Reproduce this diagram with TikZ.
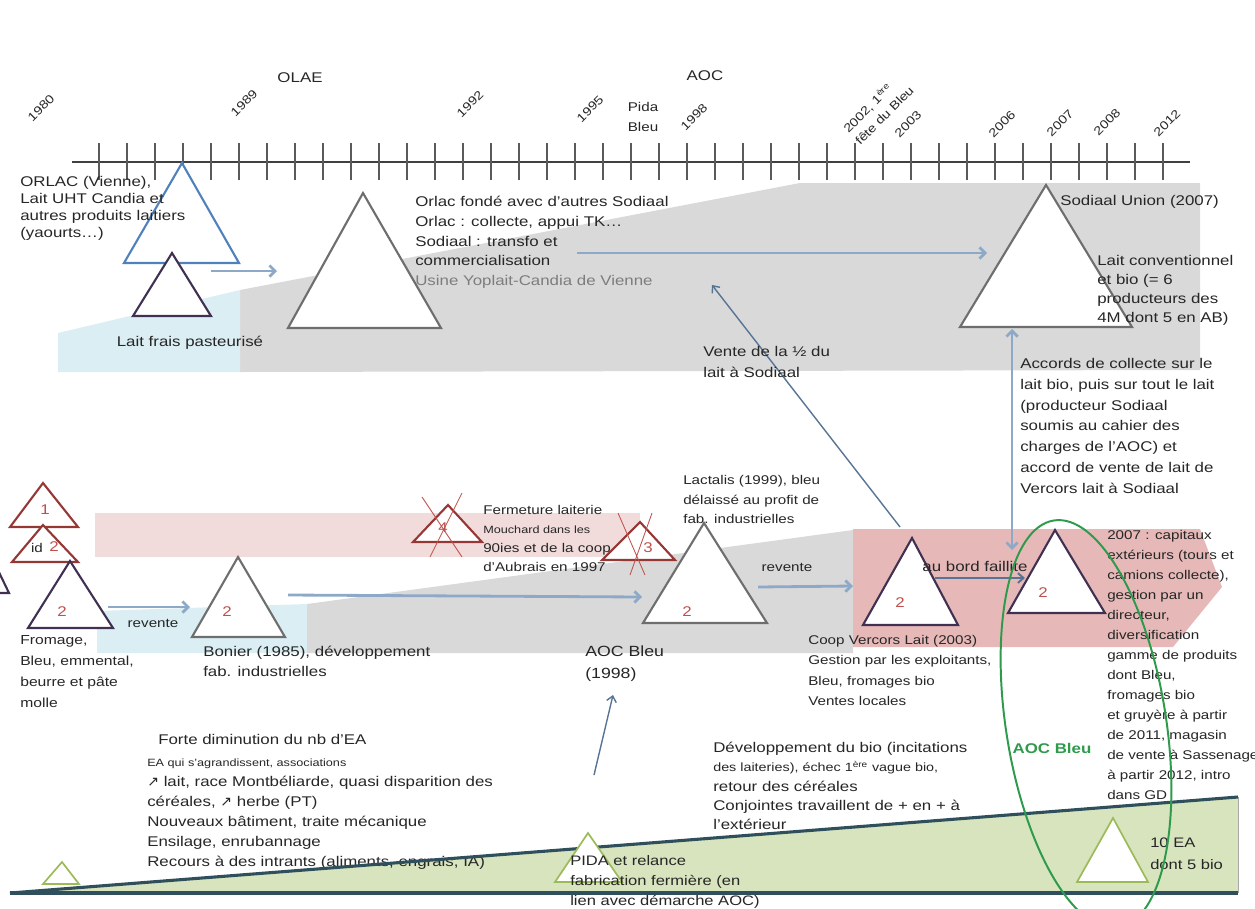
\documentclass[tikz,border=0pt]{standalone}
\usepackage{fontspec}
\setmainfont[FakeStretch=1.2]{Liberation Sans}
\newfontfamily\arrowfont{DejaVu Sans}
\usetikzlibrary{arrows.meta}

\definecolor{ink}{HTML}{262626}
\definecolor{bandgray}{HTML}{D9D9D9}
\definecolor{bandblue}{HTML}{DBEEF4}
\definecolor{pinklight}{HTML}{F2DCDB}
\definecolor{pinkdeep}{HTML}{E6B9B8}
\definecolor{bandgreen}{HTML}{D7E4BD}
\definecolor{edgegray}{HTML}{6E6E6E}
\definecolor{edgeblue}{HTML}{4F81BD}
\definecolor{edgeplum}{HTML}{403152}
\definecolor{edgered}{HTML}{953735}
\definecolor{crossred}{HTML}{C0504D}
\definecolor{edgegreen}{HTML}{9BBB59}
\definecolor{flowlight}{HTML}{8EA9C8}
\definecolor{flowdark}{HTML}{587494}
\definecolor{aocgreen}{HTML}{2E9A4C}
\definecolor{groundline}{HTML}{2F4F5C}
\definecolor{axisgray}{HTML}{404040}
\definecolor{tickgray}{HTML}{5A5A5A}

\begin{document}
\begin{tikzpicture}[x=0.025cm,y=-0.025cm,
  txt/.style={inner sep=0pt,anchor=north west,align=left,text=ink,font=\fontsize{10}{14}\selectfont},
  note/.style={inner sep=0pt,text=ink,font=\fontsize{9}{10}\selectfont},
  year/.style={inner sep=0pt,rotate=45,text=ink,font=\fontsize{8.5}{10}\selectfont},
  tri/.style={line width=1.5pt,fill=white,line join=miter},
  num/.style={inner sep=0pt,text=crossred,font=\fontsize{10}{12}\selectfont},
  flow/.style={draw=flowlight,line width=2pt,-{Straight Barb[length=4pt,width=8pt]}},
  link/.style={draw=flowdark,line width=1pt,-{Straight Barb[length=4pt,width=7pt]}},
  cross/.style={draw=crossred,line width=0.6pt},
]
\useasboundingbox (0,0) rectangle (1255,908);

% ---------- background bands ----------
\fill[bandgray] (240,290) -- (800,183) -- (1200,183) -- (1200,370) -- (240,372) -- cycle;
\fill[bandblue] (58,333) -- (240,290) -- (240,372) -- (58,372) -- cycle;
\fill[pinklight] (95,513) rectangle (640,557);
\fill[bandblue] (97,611) -- (307,604) -- (307,653) -- (97,653) -- cycle;
\fill[bandgray] (307,604) -- (853,530) -- (853,653) -- (307,653) -- cycle;
\fill[pinkdeep] (853,529) -- (1200,529) -- (1222,587) -- (1173,647) -- (853,647) -- cycle;
\fill[bandgreen] (10,893) -- (1238,797) -- (1238,893) -- cycle;
\draw[edgegray!60,line width=0.6pt] (1238,797) -- (1238,893);

% ---------- time axis ----------
\draw[axisgray,line width=1.4pt] (72,162) -- (1190,162);
\foreach \i in {0,...,38} \draw[tickgray,line width=1.2pt] (99+28*\i,143) -- ++(0,37);

\node[year] (y1980) at (41,108) {1980};
\node[year] (y1989) at (244,103) {1989};
\node[year] (y1992) at (470,104) {1992};
\node[year] (y1995) at (590,109) {1995};
\node[year] (y1998) at (694,117) {1998};
\node[year,align=left,font=\fontsize{8.5}{12}\selectfont] (y2002) at (878,109) {2002, 1\textsuperscript{ère}\\fête du Bleu};
\node[year] (y2003) at (908,124) {2003};
\node[year] (y2006) at (1002,124) {2006};
\node[year] (y2007) at (1060,123) {2007};
\node[year] (y2008) at (1107,122) {2008};
\node[year] (y2012) at (1167,123) {2012};
\node[txt,anchor=center] (olae) at (300,78) {OLAE};
\node[txt,anchor=center] (aoc) at (705,76) {AOC};
\node[txt,anchor=center,align=center,font=\fontsize{9}{14}\selectfont] (pida) at (643,117) {Pida\\Bleu};

% ---------- triangles ----------
\draw[tri,draw=edgeblue] (182,163) -- (239,263) -- (124,263) -- cycle;
\draw[tri,draw=edgeplum] (172,253) -- (211,316) -- (133,316) -- cycle;
\draw[tri,draw=edgegray] (363,193) -- (441,328) -- (288,328) -- cycle;
\draw[tri,draw=edgegray] (1046,185) -- (1132,327) -- (960,327) -- cycle;

\draw[tri,draw=edgered] (43,483) -- (78,527) -- (10,527) -- cycle;
\draw[tri,draw=edgered] (43,525) -- (78,562) -- (12,562) -- cycle;
\draw[tri,draw=edgeplum] (70,561) -- (113,628) -- (28,628) -- cycle;
\draw[tri,draw=edgeplum] (-4,566) -- (9,593) -- (-40,593) -- cycle;
\draw[tri,draw=edgegray] (238,557) -- (285,637) -- (192,637) -- cycle;
\draw[tri,draw=edgered] (448,505) -- (482,542) -- (413,542) -- cycle;
\draw[cross] (422,497) -- (462,557) (462,493) -- (430,557);
\draw[tri,draw=edgered] (640,522) -- (675,560) -- (602,560) -- cycle;
\draw[cross] (618,513) -- (645,575) (652,513) -- (630,575);
\draw[tri,draw=edgegray] (704,523) -- (767,623) -- (643,623) -- cycle;
\draw[tri,draw=edgeplum] (912,538) -- (958,625) -- (863,625) -- cycle;
\draw[tri,draw=edgeplum] (1055,530) -- (1105,613) -- (1008,613) -- cycle;

\node[num] (n1) at (45,510) {1};
\node[note] (nid) at (37,548) {id};
\node[num] (n1b) at (54,547) {2};
\node[num] (n2a) at (62,612) {2};
\node[num] (n2b) at (227,612) {2};
\node[num] (n4) at (443,528) {4};
\node[num] (n3) at (648,548) {3};
\node[num] (n2c) at (687,612) {2};
\node[num] (n2d) at (900,603) {2};
\node[num] (n2e) at (1043,593) {2};

% ---------- flows ----------
\coordinate (orlacOut) at (211,271);
\coordinate (sodIn) at (277,271);
\coordinate (sodOut) at (577,253);
\coordinate (unionIn) at (987,253);
\coordinate (vercSale) at (900,527);
\coordinate (sodSale) at (712,285);
\coordinate (fromOut) at (108,607);
\coordinate (bonIn) at (190,607);
\coordinate (bonOut) at (288,595);
\coordinate (lacIn) at (642,597);
\coordinate (lacOut) at (758,587);
\coordinate (vercIn) at (853,586);
\coordinate (pidaUp) at (594,775);
\coordinate (aocIn) at (613,695);
\coordinate (failA) at (935,578);
\coordinate (failB) at (1025,578);
\coordinate (unionBase) at (1012,329);
\coordinate (vercTop) at (1012,550);

\draw[flow] (orlacOut) -- (sodIn);
\draw[flow] (sodOut) -- (unionIn);
\draw[link] (vercSale) -- (sodSale);
\draw[flow] (fromOut) -- (bonIn);
\draw[flow] (bonOut) -- (lacIn);
\draw[flow] (lacOut) -- (vercIn);
\draw[link] (pidaUp) -- (aocIn);
\draw[link,line width=1.4pt] (failA) -- (failB);
\draw[flow,{Straight Barb[length=4pt,width=8pt]}-{Straight Barb[length=4pt,width=8pt]}] (unionBase) -- (vercTop);

% ---------- texts, upper part ----------
\node[txt,font=\fontsize{10}{12.1}\selectfont] (orlac) at (20,176) {ORLAC (Vienne),\\Lait UHT Candia et\\autres produits laitiers\\(yaourts…)};
\node[txt,anchor=center] (frais) at (190,343) {Lait frais pasteurisé};
\node[txt] (fonde) at (415,196) {Orlac fondé avec d'autres Sodiaal\\Orlac : collecte, appui TK…\\Sodiaal : transfo et\\commercialisation\\{\color{ink!60}Usine Yoplait-Candia de Vienne}};
\node[txt,font=\fontsize{10}{15}\selectfont] (vente) at (703,346) {Vente de la ½ du\\lait à Sodiaal};
\node[txt] (union) at (1060,195) {Sodiaal Union (2007)};
\node[txt,font=\fontsize{10}{13.5}\selectfont] (conv) at (1097,255) {Lait conventionnel\\et bio (= 6\\producteurs des\\4M dont 5 en AB)};
\node[txt,font=\fontsize{10}{14.8}\selectfont] (accords) at (1020,358) {Accords de collecte sur le\\lait bio, puis sur tout le lait\\(producteur Sodiaal\\soumis au cahier des\\charges de l'AOC) et\\accord de vente de lait de\\Vercors lait à Sodiaal};

% ---------- texts, middle part ----------
\node[txt,font=\fontsize{9}{13.5}\selectfont] (ferme) at (483,505) {Fermeture laiterie\\{\fontsize{7.5}{9}\selectfont Mouchard dans les}\\90ies et de la coop\\d'Aubrais en 1997};
\node[txt,font=\fontsize{9}{14}\selectfont] (lactalis) at (683,475) {Lactalis (1999), bleu\\délaissé au profit de\\fab. industrielles};
\node[note] (rev1) at (153,623) {revente};
\node[note] (rev2) at (787,567) {revente};
\node[txt,font=\fontsize{9.3}{15}\selectfont] (fromage) at (20,635) {Fromage,\\Bleu, emmental,\\beurre et pâte\\molle};
\node[txt,font=\fontsize{10}{14}\selectfont] (bonier) at (203,646) {Bonier  (1985), développement\\fab. industrielles};
\node[txt,font=\fontsize{10.5}{15.5}\selectfont] (aocbleu) at (585,646) {AOC Bleu\\(1998)};
\node[txt,font=\fontsize{9}{14.5}\selectfont] (coop) at (808,635) {Coop Vercors Lait (2003)\\Gestion par les exploitants,\\Bleu, fromages bio\\Ventes locales};
\node[txt,anchor=center,font=\fontsize{10}{11}\selectfont] (faillite) at (975,566) {au bord faillite};
\node[txt,font=\fontsize{9}{14.2}\selectfont] (capitaux) at (1107,530) {2007 : capitaux\\extérieurs (tours et\\camions collecte),\\gestion par un\\directeur,\\diversification\\gamme de produits\\dont Bleu,\\fromages bio\\et gruyère à partir\\de 2011, magasin\\de vente à Sassenage\\à partir 2012, intro\\dans GD};
\node[txt,anchor=center,text=aocgreen,font=\fontsize{10}{12}\selectfont\bfseries] (aocgreen) at (1052,748) {AOC Bleu};

% ---------- texts, lower part ----------
\node[txt,font=\fontsize{10}{12}\selectfont] (forte) at (158,734) {Forte diminution du nb d'EA};
\node[txt,font=\fontsize{10}{14.2}\selectfont] (ea) at (147,759) {{\fontsize{7.5}{9}\selectfont EA qui s'agrandissent, associations}\\{\arrowfont ↗} lait, race Montbéliarde, quasi disparition des\\céréales, {\arrowfont ↗} herbe (PT)\\Nouveaux bâtiment, traite mécanique\\Ensilage, enrubannage\\Recours à des intrants (aliments, engrais, IA)};
\node[txt,font=\fontsize{10}{13.7}\selectfont] (devbio) at (713,742) {Développement du bio (incitations\\{\fontsize{8.5}{9}\selectfont des laiteries), échec 1\textsuperscript{ère} vague bio,}\\retour des céréales\\Conjointes travaillent de + en + à\\l'extérieur};

% ---------- ground band ----------
\draw[groundline,line width=2.2pt] (10,893) -- (1238,797);
\draw[groundline,line width=2.2pt] (10,893) -- (1238,893);
\draw[tri,draw=edgegreen,line width=1.2pt] (62,862) -- (79,884) -- (43,884) -- cycle;
\draw[tri,draw=edgegreen,line width=1.2pt] (588,833) -- (622,882) -- (555,882) -- cycle;
\draw[tri,draw=edgegreen,line width=1.2pt] (1113,818) -- (1148,882) -- (1077,882) -- cycle;
\node[txt,font=\fontsize{9.8}{14.2}\selectfont] (pidatxt) at (570,855) {PIDA et relance\\fabrication fermière (en\\lien avec démarche AOC)};
\node[txt,font=\fontsize{9.8}{15}\selectfont] (ea10) at (1150,838) {10 EA\\dont 5 bio};

% ---------- AOC area ----------
\draw[aocgreen,line width=1.4pt,rotate around={9:(1086,724)}] (1086,724) ellipse [x radius=2cm, y radius=5.15cm];
\end{tikzpicture}
\end{document}
